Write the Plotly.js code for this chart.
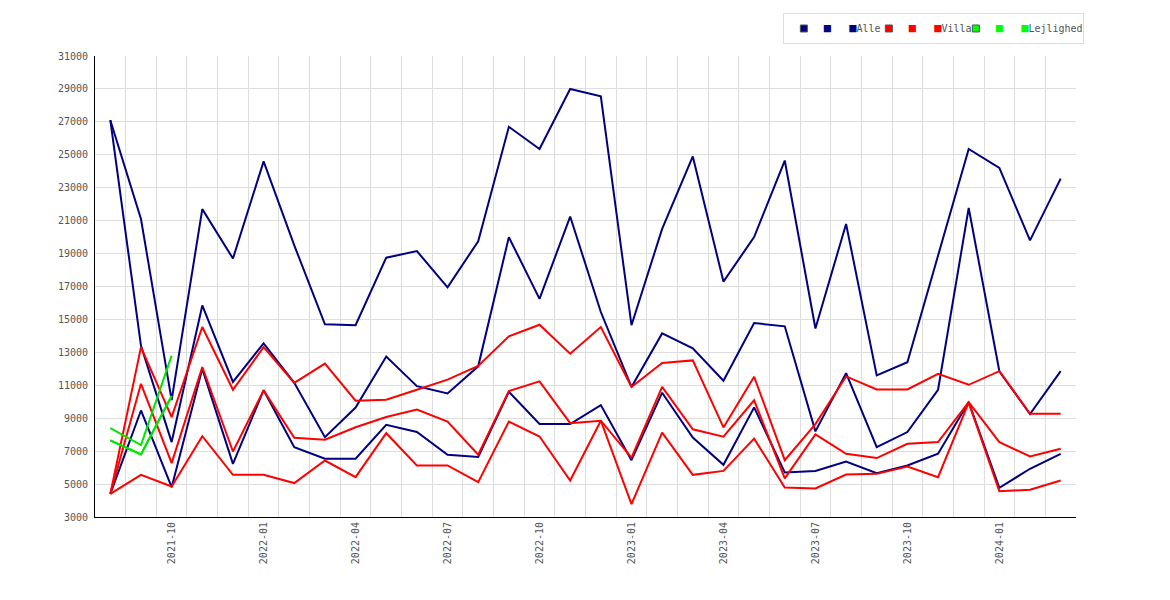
<!DOCTYPE html>
<html>
<head>
<meta charset="utf-8">
<script src="https://cdn.plot.ly/plotly-3.0.1.min.js"></script>
<style>
  body { margin: 0; background: #fff; }
  #chart { width: 1170px; height: 600px; }
</style>
</head>
<body>
<div id="chart"></div>
<script>
const months = [
  "2021-08", "2021-09", "2021-10", "2021-11", "2021-12",
  "2022-01", "2022-02", "2022-03", "2022-04", "2022-05", "2022-06",
  "2022-07", "2022-08", "2022-09", "2022-10", "2022-11", "2022-12",
  "2023-01", "2023-02", "2023-03", "2023-04", "2023-05", "2023-06",
  "2023-07", "2023-08", "2023-09", "2023-10", "2023-11", "2023-12",
  "2024-01", "2024-02", "2024-03",
];

// Alle (navy)
const alleMax = [
  27100, 21100, 10100, 21700, 18700,
  24600, 19500, 14700, 14650, 18750, 19150, 16950, 19750, 26700, 25350, 29000, 28550,
  14650, 20500, 24900, 17300, 20000, 24650, 14450, 20800, 11600, 12400, 18800, 25350,
  24200, 19800, 23550,
];
const alleMid = [
  27100, 13400, 7550, 15850, 11200,
  13550, 11150, 7850, 9650, 12750, 10950, 10500, 12150, 20000, 16250, 21250, 15450,
  10900, 14150, 13250, 11280, 14780, 14580, 8200, 11740, 7240, 8160, 10730, 21770,
  11850, 9250, 11860,
];
const alleMin = [
  4400, 9470, 4810, 12000, 6230,
  10700, 7240, 6540, 6540, 8600, 8160, 6780, 6640, 10600, 8650, 8650, 9800,
  6450, 10550, 7830, 6170, 9660, 5700, 5800, 6370, 5660, 6130, 6840, 9980,
  4770, 5930, 6840,
];

// Villa (red)
const villaMax = [
  4400, 13320, 9070, 14540, 10730,
  13320, 11150, 12320, 10060, 10120, 10730, 11340, 12170, 13970, 14680, 12920, 14540,
  10900, 12350, 12510, 8440, 11520, 6450, 8640, 11540, 10750, 10750, 11700, 11030,
  11860, 9270, 9270,
];
const villaMid = [
  4400, 11090, 6270, 12110, 6980,
  10690, 7810, 7690, 8450, 9070, 9530, 8800, 6780, 10650, 11240, 8700, 8850,
  6600, 10900, 8330, 7880, 10090, 5350, 8020, 6840, 6580, 7450, 7550, 9980,
  7550, 6680, 7150,
];
const villaMin = [
  4400, 5560, 4850, 7910, 5560,
  5560, 5060, 6430, 5420, 8090, 6130, 6130, 5120, 8800, 7890, 5220, 8850,
  3780, 8130, 5560, 5800, 7760, 4790, 4730, 5580, 5620, 6070, 5420, 9950,
  4570, 4650, 5220,
];

// Lejlighed (green), only the first three months
const lejMax = [8400, 7370, 12800];
const lejMid = [7650, 6800, 10350];
const lejMin = [7650, 6800, 10350];

const tickText = months.map((m) => (["01", "04", "07", "10"].includes(m.slice(5)) ? m : ""));

const NAVY = "#000080";
const RED = "#ff0000";
const GREEN = "#00e600";
const LEGEND_GREEN = "#00ff00";

function lineTrace(y, color) {
  return {
    x: months.slice(0, y.length),
    y: y,
    type: "scatter",
    mode: "lines",
    showlegend: false,
    hoverinfo: "skip",
    line: { color: color, width: 2 },
  };
}

// each legend entry shows three squares, like the original
const nb = "\u00a0\u00a0\u00a0";
function legendTrace(label, color, width) {
  const sq = `<span style="color:${color};font-size:12px">■</span>`;
  return {
    x: [null],
    y: [null],
    type: "scatter",
    mode: "markers",
    name: sq + nb + sq + label,
    legendwidth: width,
    marker: { symbol: "square", size: 7, color: color, line: { color: "#555", width: 1 } },
  };
}

const data = [
  lineTrace(alleMax, NAVY),
  lineTrace(alleMid, NAVY),
  lineTrace(alleMin, NAVY),
  lineTrace(villaMax, RED),
  lineTrace(villaMid, RED),
  lineTrace(villaMin, RED),
  lineTrace(lejMax, GREEN),
  lineTrace(lejMid, GREEN),
  lineTrace(lejMin, GREEN),
  legendTrace("Alle", NAVY, 40),
  legendTrace("Villa", RED, 42),
  legendTrace("Lejlighed", LEGEND_GREEN, 82),
];

const layout = {
  width: 1170,
  height: 600,
  margin: { t: 56, b: 83, l: 95, r: 94 },
  paper_bgcolor: "#fff",
  plot_bgcolor: "#fff",
  font: { family: "DejaVu Sans Mono", size: 10, color: "#555" },
  hovermode: false,
  showlegend: true,
  legend: {
    orientation: "h",
    x: 1.008,
    xanchor: "right",
    y: 1.0933,
    yanchor: "top",
    bordercolor: "#ddd",
    borderwidth: 1,
    bgcolor: "#fff",
    font: { family: "DejaVu Sans Mono", size: 10, color: "#555" },
  },
  xaxis: {
    type: "category",
    range: [-0.5, months.length - 0.5],
    tickmode: "array",
    tickvals: months,
    ticktext: tickText,
    tickson: "boundaries",
    ticks: "",
    tickangle: -90,
    showgrid: true,
    gridcolor: "#ddd",
    gridwidth: 1,
    showline: true,
    linecolor: "#000",
    linewidth: 1,
    zeroline: false,
    fixedrange: true,
  },
  yaxis: {
    range: [3000, 31000],
    tick0: 3000,
    dtick: 2000,
    tickformat: "d",
    ticks: "",
    ticklabelstandoff: 4,
    showgrid: true,
    gridcolor: "#ddd",
    gridwidth: 1,
    showline: true,
    linecolor: "#000",
    linewidth: 1,
    zeroline: false,
    fixedrange: true,
  },
};

Plotly.newPlot("chart", data, layout, { displayModeBar: false, staticPlot: true });
</script>
</body>
</html>
